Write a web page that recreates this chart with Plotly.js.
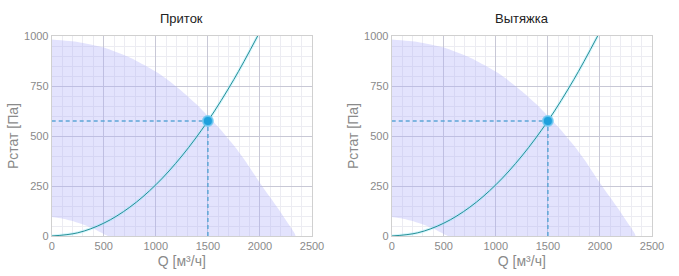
<!DOCTYPE html>
<html>
<head>
<meta charset="utf-8">
<script src="https://cdn.plot.ly/plotly-3.0.1.min.js"></script>
<style>html,body{margin:0;padding:0;background:#fff;}#chart{width:679px;height:276px;}</style>
</head>
<body>
<div id="chart"></div>
<script>
// Titles
const titles = ["Приток", "Вытяжка"];
// Fan envelope: upper (max) curve and lower (min) curve
const upperQ = [0, 250, 500, 750, 1000, 1100, 1250, 1400, 1500, 1600, 1750, 1850, 2000, 2100, 2200, 2280, 2340];
const upperP = [982, 970, 942, 892, 822, 786, 724, 654, 600, 545, 452, 382, 265, 192, 118, 55, 0];
const lowerQ = [0, 100, 200, 300, 400, 480, 540];
const lowerP = [95, 88, 75, 58, 38, 16, 0];
// System curve
const sysQ = [0, 250, 500, 750, 1000, 1250, 1500, 1750, 1978];
const sysP = [0, 16, 64, 144, 256, 400, 575, 783, 1000];
// Working point
const workQ = 1500;
const workP = 575;
// Tick values
const xTicks = [0, 500, 1000, 1500, 2000, 2500];
const yTicks = [0, 250, 500, 750, 1000];

const envQ = upperQ.concat(lowerQ.slice().reverse());
const envP = upperP.concat(lowerP.slice().reverse());

const traces = [];
const suffixes = ["", "2"];
suffixes.forEach(function(s){
  const xa = "x" + s, ya = "y" + s;
  traces.push({x: envQ, y: envP, xaxis: xa, yaxis: ya, type: "scatter", mode: "lines",
    fill: "toself", fillcolor: "rgba(175,175,250,0.35)", line: {width: 0, color: "rgba(0,0,0,0)", shape: "spline", smoothing: 0.5},
    hoverinfo: "skip", showlegend: false});
  traces.push({x: sysQ, y: sysP, xaxis: xa, yaxis: ya, type: "scatter", mode: "lines",
    line: {color: "rgba(140,230,250,0.35)", width: 3, shape: "spline"}, showlegend: false, hoverinfo: "skip"});
  traces.push({x: sysQ, y: sysP, xaxis: xa, yaxis: ya, type: "scatter", mode: "lines",
    line: {color: "#238f96", width: 1, shape: "spline"}, showlegend: false});
  traces.push({x: [0, workQ], y: [workP, workP], xaxis: xa, yaxis: ya, type: "scatter", mode: "lines",
    line: {color: "#5ea6d6", width: 1.5, dash: "4px,3px"}, showlegend: false, hoverinfo: "skip"});
  traces.push({x: [workQ, workQ], y: [0, workP], xaxis: xa, yaxis: ya, type: "scatter", mode: "lines",
    line: {color: "#5ea6d6", width: 1.5, dash: "4px,3px"}, showlegend: false, hoverinfo: "skip"});
  traces.push({x: [workQ], y: [workP], xaxis: xa, yaxis: ya, type: "scatter", mode: "markers",
    marker: {size: 10, color: "#1ea0dc", line: {color: "rgba(110,200,240,0.8)", width: 2}}, showlegend: false});
});

const font = {family: "Liberation Sans, Arial, sans-serif"};
function xaxis(domain, anchor){
  return {domain: domain, anchor: anchor, range: [0, 2500], tickvals: xTicks, ticktext: xTicks.map(String),
    showgrid: true, gridcolor: "#c8c8d6", gridwidth: 1, zeroline: false,
    showline: true, mirror: true, linecolor: "#d0d0d0", linewidth: 1,
    ticks: "", tickfont: {size: 11, color: "#8a8a8a"},
    minor: {dtick: 100, showgrid: true, gridcolor: "#ececf2", gridwidth: 1},
    title: {text: "Q [м³/ч]", font: {size: 14, color: "#8a8a8a"}, standoff: 4},
    fixedrange: true};
}
function yaxis(domain, anchor){
  return {domain: domain, anchor: anchor, range: [0, 1000], tickvals: yTicks, ticktext: yTicks.map(String),
    showgrid: true, gridcolor: "#c8c8d6", gridwidth: 1, zeroline: false,
    showline: true, mirror: true, linecolor: "#d0d0d0", linewidth: 1,
    ticks: "", tickfont: {size: 11, color: "#8a8a8a"},
    minor: {dtick: 50, showgrid: true, gridcolor: "#ececf2", gridwidth: 1},
    title: {text: "Рстат [Па]", font: {size: 14, color: "#8a8a8a"}, standoff: 2},
    fixedrange: true};
}
const yd = [40/276, 240/276];
const layout = {
  width: 679, height: 276, margin: {l: 0, r: 0, t: 0, b: 0},
  paper_bgcolor: "#fff", plot_bgcolor: "#fff", font: font, showlegend: false,
  xaxis: xaxis([51.7/679, 312/679], "y"),
  yaxis: yaxis(yd, "x"),
  xaxis2: xaxis([391.7/679, 652/679], "y2"),
  yaxis2: yaxis(yd, "x2"),
  annotations: [
    {text: titles[0], x: (51.7+312)/2/679, y: 1 - 19/276, xref: "paper", yref: "paper", showarrow: false,
     font: {size: 13, color: "#222"}, xanchor: "center", yanchor: "middle"},
    {text: titles[1], x: (391.7+652)/2/679, y: 1 - 19/276, xref: "paper", yref: "paper", showarrow: false,
     font: {size: 13, color: "#222"}, xanchor: "center", yanchor: "middle"}
  ]
};
Plotly.newPlot("chart", traces, layout, {displayModeBar: false, staticPlot: true});
</script>
</body>
</html>
